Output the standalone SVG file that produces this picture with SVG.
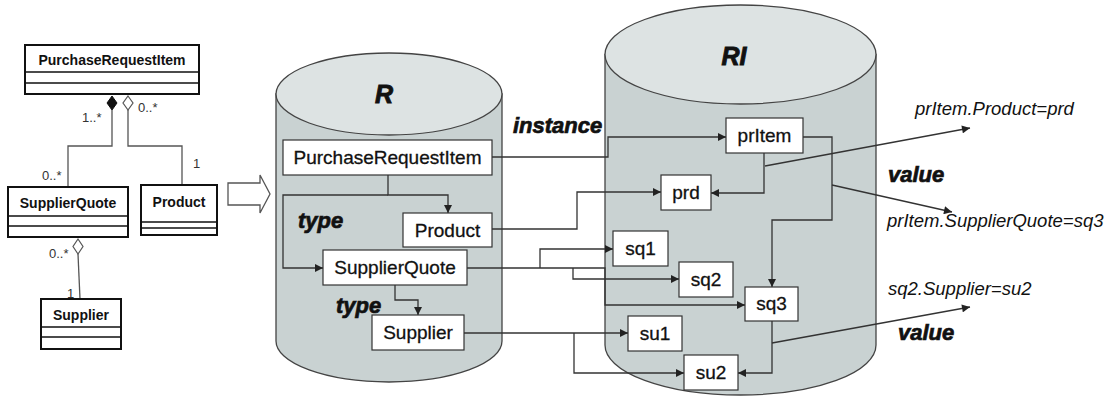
<svg xmlns="http://www.w3.org/2000/svg" width="1111" height="396" viewBox="0 0 1111 396">
  <style>
    .uml { fill: #fff; stroke: #111; stroke-width: 2; }
    .umlsep { stroke: #111; stroke-width: 1.5; fill: none; }
    .umlname { font-family: "Liberation Sans", Arial, sans-serif; font-size: 14px; font-weight: bold; fill: #111; text-anchor: middle; }
    .mult { font-family: "Liberation Sans", Arial, sans-serif; font-size: 13px; fill: #333; }
    .assoc { stroke: #555; stroke-width: 1.3; fill: none; }
    .cylbody { fill: #c9d2d2; stroke: #444; stroke-width: 1.3; }
    .cyltop { fill: #dde3e3; stroke: #444; stroke-width: 1.3; }
    .box { fill: #fff; stroke: #333; stroke-width: 1.2; }
    .lbl { font-family: "Liberation Sans", Arial, sans-serif; font-size: 19px; fill: #111; stroke: #111; stroke-width: 0.3; text-anchor: middle; }
    .kw { font-family: "Liberation Sans", Arial, sans-serif; font-size: 22px; font-weight: bold; font-style: italic; fill: #111; stroke: #111; stroke-width: 0.7; }
    .title { font-family: "Liberation Sans", Arial, sans-serif; font-size: 25px; font-weight: bold; font-style: italic; fill: #111; stroke: #111; stroke-width: 0.9; text-anchor: middle; }
    .expr { font-family: "Liberation Sans", Arial, sans-serif; font-size: 18.5px; font-style: italic; fill: #111; }
    .conn { stroke: #333; stroke-width: 1.3; fill: none; }
  </style>
  <defs>
    <marker id="arrow" viewBox="0 0 10 10" refX="10" refY="5" markerWidth="9" markerHeight="8" markerUnits="userSpaceOnUse" orient="auto">
      <path d="M0,0 L10,5 L0,10 z" fill="#222"/>
    </marker>
  </defs>

  <!-- UML class diagram -->
  <g id="uml-links">
    <path class="assoc" d="M112,110 V146 H68 V187"/>
    <path class="assoc" d="M128,110 V146 H182 V185"/>
    <path class="assoc" d="M78,254 L80,299"/>
    <path d="M112,96 L117,103 L112,110 L107,103 Z" fill="#111" stroke="#111" stroke-width="1"/>
    <path d="M128,96 L133,103 L128,110 L123,103 Z" fill="#fff" stroke="#555" stroke-width="1.2"/>
    <path d="M78,239 L83,246.5 L78,254 L73,246.5 Z" fill="#fff" stroke="#555" stroke-width="1.2"/>
    <text class="mult" x="82" y="122">1..*</text>
    <text class="mult" x="138" y="112">0..*</text>
    <text class="mult" x="42" y="180">0..*</text>
    <text class="mult" x="193" y="168">1</text>
    <text class="mult" x="49" y="258">0..*</text>
    <text class="mult" x="67" y="298">1</text>
  </g>
  <g id="uml-PurchaseRequestItem">
    <rect class="uml" x="25" y="45" width="174" height="49"/>
    <path class="umlsep" d="M25,72 H199 M25,83 H199"/>
    <text class="umlname" x="112" y="65">PurchaseRequestItem</text>
  </g>
  <g id="uml-SupplierQuote">
    <rect class="uml" x="8" y="187" width="120" height="50"/>
    <path class="umlsep" d="M8,216 H128 M8,226 H128"/>
    <text class="umlname" x="68" y="208">SupplierQuote</text>
  </g>
  <g id="uml-Product">
    <rect class="uml" x="141" y="185" width="76" height="50"/>
    <path class="umlsep" d="M141,222 H217 M141,228 H217"/>
    <text class="umlname" x="179" y="207">Product</text>
  </g>
  <g id="uml-Supplier">
    <rect class="uml" x="41" y="299" width="80" height="50"/>
    <path class="umlsep" d="M41,327 H121 M41,337 H121"/>
    <text class="umlname" x="81" y="320">Supplier</text>
  </g>

  <!-- block arrow -->
  <g id="block-arrow">
    <path d="M228,183 H260 V175 L270,194 L260,213 V205 H228 Z" fill="#fff" stroke="#555" stroke-width="1.3"/>
  </g>

  <!-- repository R -->
  <g id="cyl-R">
    <path class="cylbody" d="M276,94 V341 A113,41 0 0 0 502,341 V94 Z"/>
    <ellipse class="cyltop" cx="389" cy="94" rx="113" ry="41"/>
    <text class="title" x="384" y="103">R</text>
  </g>

  <!-- repository RI -->
  <g id="cyl-RI">
    <path class="cylbody" d="M605,54.5 V345 A135.5,50 0 0 0 876,345 V54.5 Z"/>
    <ellipse class="cyltop" cx="740.5" cy="54.5" rx="135.5" ry="49.5"/>
    <text class="title" x="734" y="65">RI</text>
  </g>

  <!-- connectors -->
  <g id="connectors">
    <path class="conn" d="M388,175 V195 H448 V213" marker-end="url(#arrow)"/>
    <path class="conn" d="M388,195 H283 V268 H323" marker-end="url(#arrow)"/>
    <path class="conn" d="M395,285 V300 H418 V315" marker-end="url(#arrow)"/>

    <path class="conn" d="M492,157 H608 V137 H726" marker-end="url(#arrow)"/>
    <path class="conn" d="M492,229 H577 V192 H661" marker-end="url(#arrow)"/>
    <path class="conn" d="M467,268 H605 V305 H745" marker-end="url(#arrow)"/>
    <path class="conn" d="M540,268 V249 H613" marker-end="url(#arrow)"/>
    <path class="conn" d="M573,268 V279 H679" marker-end="url(#arrow)"/>
    <path class="conn" d="M464,333 H628" marker-end="url(#arrow)"/>
    <path class="conn" d="M574,333 V373 H684" marker-end="url(#arrow)"/>

    <path class="conn" d="M764,153 V193 H711" marker-end="url(#arrow)"/>
    <path class="conn" d="M803,137 H832 V220 H772 V287" marker-end="url(#arrow)"/>
    <path class="conn" d="M772,321 V373 H738" marker-end="url(#arrow)"/>

    <path class="conn" d="M765,166 L970,128" marker-end="url(#arrow)"/>
    <path class="conn" d="M832,185 L952,212" marker-end="url(#arrow)"/>
    <path class="conn" d="M772,343 L970,307" marker-end="url(#arrow)"/>

    <text class="kw" x="513" y="133">instance</text>
    <text class="kw" x="298" y="228">type</text>
    <text class="kw" x="336" y="313">type</text>
    <text class="kw" x="888" y="182">value</text>
    <text class="kw" x="898" y="340">value</text>
    <text class="expr" x="915" y="115">prItem.Product=prd</text>
    <text class="expr" x="887" y="227">prItem.SupplierQuote=sq3</text>
    <text class="expr" x="888" y="295">sq2.Supplier=su2</text>
  </g>

  <!-- nodes in R -->
  <g id="R-PurchaseRequestItem">
    <rect class="box" x="283" y="140" width="209" height="35"/>
    <text class="lbl" x="387.5" y="164">PurchaseRequestItem</text>
  </g>
  <g id="R-Product">
    <rect class="box" x="403" y="213" width="89" height="34"/>
    <text class="lbl" x="447.5" y="237">Product</text>
  </g>
  <g id="R-SupplierQuote">
    <rect class="box" x="323" y="250" width="144" height="35"/>
    <text class="lbl" x="395" y="274">SupplierQuote</text>
  </g>
  <g id="R-Supplier">
    <rect class="box" x="372" y="315" width="92" height="35"/>
    <text class="lbl" x="418" y="339">Supplier</text>
  </g>

  <!-- nodes in RI -->
  <g id="RI-prItem">
    <rect class="box" x="726" y="118" width="77" height="35"/>
    <text class="lbl" x="764.5" y="142">prItem</text>
  </g>
  <g id="RI-prd">
    <rect class="box" x="661" y="175" width="50" height="35"/>
    <text class="lbl" x="686" y="199">prd</text>
  </g>
  <g id="RI-sq1">
    <rect class="box" x="613" y="231" width="55" height="35"/>
    <text class="lbl" x="640.5" y="255">sq1</text>
  </g>
  <g id="RI-sq2">
    <rect class="box" x="679" y="262" width="54" height="35"/>
    <text class="lbl" x="706" y="286">sq2</text>
  </g>
  <g id="RI-sq3">
    <rect class="box" x="745" y="287" width="53" height="34"/>
    <text class="lbl" x="771.5" y="310">sq3</text>
  </g>
  <g id="RI-su1">
    <rect class="box" x="628" y="316" width="54" height="35"/>
    <text class="lbl" x="655" y="340">su1</text>
  </g>
  <g id="RI-su2">
    <rect class="box" x="684" y="355" width="54" height="35"/>
    <text class="lbl" x="711" y="379">su2</text>
  </g>
</svg>
